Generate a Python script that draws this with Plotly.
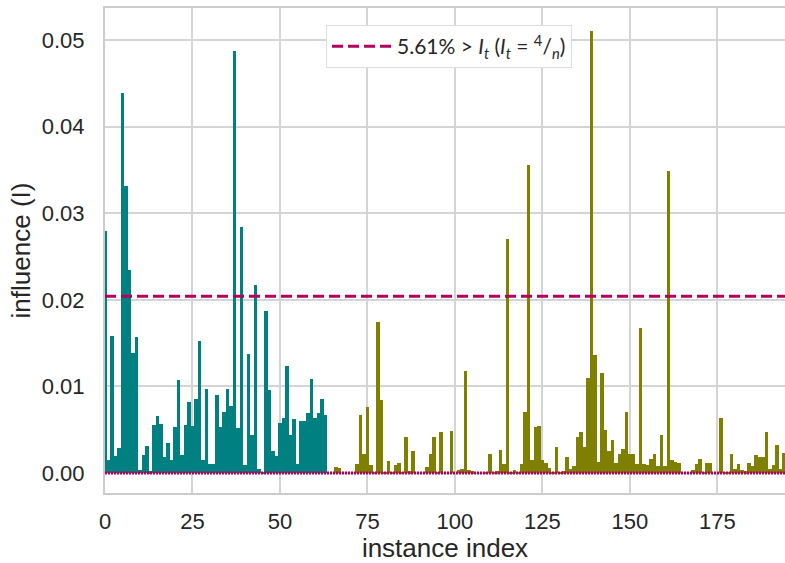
import plotly.graph_objects as go

# Cook's-distance style influence values
teal_values = [
    0.0280, 0.0015, 0.0158, 0.0020, 0.0029, 0.0439, 0.0331, 0.0235, 0.0139, 0.0157,
    0.0003, 0.0021, 0.0031, 0.0002, 0.0055, 0.0066, 0.0057, 0.0019, 0.0035, 0.0015,
    0.0053, 0.0108, 0.0021, 0.0055, 0.0082, 0.0054, 0.0086, 0.0153, 0.0015, 0.0097,
    0.0010, 0.0010, 0.0090, 0.0053, 0.0071, 0.0097, 0.0077, 0.0487, 0.0052, 0.0284,
    0.0009, 0.0137, 0.0044, 0.0217, 0.0005, 0.0001, 0.0187, 0.0096, 0.0025, 0.0020,
    0.0058, 0.0064, 0.0124, 0.0044, 0.0062, 0.0010, 0.0060, 0.0060, 0.0069, 0.0109,
    0.0064, 0.0069, 0.0085, 0.0067,
]
olive_values = [
    0.0000, 0.0000, 0.0007, 0.0006, 0.0000, 0.0000, 0.0000, 0.0000, 0.0010, 0.0067,
    0.0022, 0.0076, 0.0009, 0.0001, 0.0174, 0.0084, 0.0001, 0.0014, 0.0001, 0.0009,
    0.0012, 0.0001, 0.0042, 0.0002, 0.0026, 0.0000, 0.0000, 0.0000, 0.0007, 0.0022,
    0.0042, 0.0001, 0.0047, 0.0000, 0.0000, 0.0049, 0.0000, 0.0003, 0.0005, 0.0118,
    0.0004, 0.0002, 0.0000, 0.0000, 0.0000, 0.0001, 0.0022, 0.0001, 0.0002, 0.0027,
    0.0011, 0.0270, 0.0001, 0.0003, 0.0001, 0.0010, 0.0071, 0.0356, 0.0015, 0.0053,
    0.0054, 0.0015, 0.0012, 0.0006, 0.0001, 0.0030, 0.0001, 0.0002, 0.0018, 0.0005,
    0.0008, 0.0042, 0.0047, 0.0030, 0.0110, 0.0511, 0.0136, 0.0013, 0.0115, 0.0050,
    0.0025, 0.0038, 0.0012, 0.0022, 0.0028, 0.0070, 0.0022, 0.0022, 0.0011, 0.0167,
    0.0011, 0.0009, 0.0016, 0.0022, 0.0008, 0.0044, 0.0008, 0.0349, 0.0015, 0.0013,
    0.0012, 0.0000, 0.0000, 0.0000, 0.0003, 0.0011, 0.0016, 0.0001, 0.0012, 0.0012,
    0.0000, 0.0000, 0.0064, 0.0001, 0.0001, 0.0022, 0.0005, 0.0011, 0.0003, 0.0002,
    0.0012, 0.0008, 0.0021, 0.0019, 0.0019, 0.0048, 0.0005, 0.0009, 0.0033, 0.0005,
    0.0023, 0.0010,
]
x_ticks = [0, 25, 50, 75, 100, 125, 150, 175]
y_ticks = [0.00, 0.01, 0.02, 0.03, 0.04, 0.05]

n = len(teal_values) + len(olive_values)
threshold = 4 / n
all_values = teal_values + olive_values
pct = 100 * sum(v > threshold for v in all_values) / n

teal_x = list(range(len(teal_values)))
olive_x = list(range(len(teal_values), n))

FONT = "Liberation Sans, Arial, sans-serif"
MAG = "#b2005c"

fig = go.Figure()
fig.add_trace(go.Bar(x=teal_x, y=teal_values, width=0.97, marker_color="#008080",
                     marker_line_width=0, showlegend=False))
fig.add_trace(go.Bar(x=olive_x, y=olive_values, width=0.97, marker_color="#808000",
                     marker_line_width=0, showlegend=False))
fig.add_trace(go.Scatter(x=[0, n], y=[0, 0], mode="lines",
                         line=dict(color=MAG, width=3, dash="2px,1px"), showlegend=False))
fig.add_trace(go.Scatter(
    x=[0, n], y=[threshold, threshold], mode="lines",
    line=dict(color=MAG, width=3, dash="11px,5px"),
    name=f"{pct:.2f}% > <i>I<sub>t</sub></i> (<i>I<sub>t</sub></i> = <sup>4</sup>/<sub><i>n</i></sub>)",
))

fig.update_layout(
    width=785, height=563,
    margin=dict(l=105, r=0, t=8, b=70),
    plot_bgcolor="white", paper_bgcolor="white",
    bargap=0,
    font=dict(family=FONT, size=22, color="#262626"),
    legend=dict(x=0.325, y=0.965, xanchor="left", yanchor="top",
                bgcolor="white", bordercolor="#dddddd", borderwidth=1,
                itemwidth=60,
                font=dict(family="Lato, Open Sans, sans-serif", size=21, color="#262626")),
    xaxis=dict(range=[0, 194.3], tickvals=x_ticks, showgrid=True, gridcolor="#d4d4d4",
               gridwidth=2, zeroline=False, showline=True, linecolor="#cccccc",
               linewidth=2, mirror=True, ticks="outside", ticklen=8,
               tickcolor="rgba(0,0,0,0)", automargin=False,
               title=dict(text="instance index", standoff=4)),
    yaxis=dict(range=[-0.0023, 0.0537], tickvals=y_ticks, tickformat=".2f",
               showgrid=True, gridcolor="#d4d4d4", gridwidth=2, zeroline=False,
               showline=True, linecolor="#cccccc", linewidth=2,
               ticks="outside", ticklen=14, tickcolor="rgba(0,0,0,0)", automargin=False,
               title=dict(text="influence (I)", standoff=4)),
)

fig.write_html(
    "out.html",
    config={"displayModeBar": False},
    post_script="document.body.style.margin='0';document.documentElement.style.overflow='hidden';document.body.style.overflow='hidden';",
)
